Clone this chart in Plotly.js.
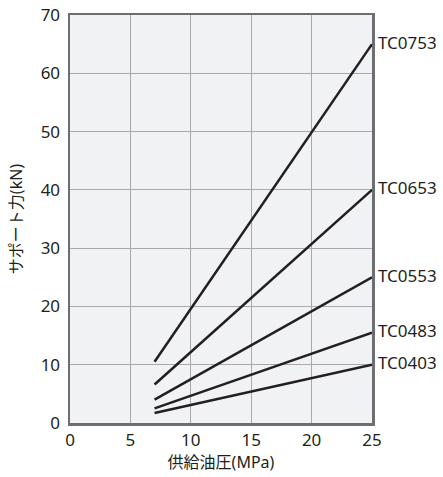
<!DOCTYPE html>
<html><head><meta charset="utf-8">
<script src="https://cdn.plot.ly/plotly-3.0.1.min.js"></script>
<style>html,body{margin:0;padding:0;background:#fff}</style>
</head><body><div id="chart" style="width:443px;height:477px"></div>
<script>
const pressure = [7, 25];
const seriesNames = ["TC0753", "TC0653", "TC0553", "TC0483", "TC0403"];
const tc0753 = [10.5, 65];
const tc0653 = [6.6, 40];
const tc0553 = [4, 25];
const tc0483 = [2.5, 15.5];
const tc0403 = [1.7, 10];
const allSeries = [tc0753, tc0653, tc0553, tc0483, tc0403];
const xTicks = [0, 5, 10, 15, 20, 25];
const yTicks = [0, 10, 20, 30, 40, 50, 60, 70];

const font = "'Noto Sans', 'Noto Sans CJK JP', sans-serif";
const traces = allSeries.map((s, i) => ({
  x: pressure, y: s, mode: 'lines', name: seriesNames[i],
  line: {color: '#231f20', width: 2.5}, hoverinfo: 'none', cliponaxis: false
}));
const annotations = allSeries.map((s, i) => ({
  x: pressure[pressure.length - 1], y: s[s.length - 1], xref: 'x', yref: 'y',
  text: seriesNames[i], showarrow: false, xanchor: 'left', xshift: 4, yshift: 2,
  font: {family: font, size: 17, color: '#231f20'}
}));
Plotly.newPlot('chart', traces, {
  width: 443, height: 477,
  margin: {l: 70, r: 71, t: 15, b: 54},
  paper_bgcolor: '#fff', plot_bgcolor: '#f1f2f3',
  showlegend: false,
  font: {family: font, size: 17, color: '#231f20'},
  xaxis: {range: [0, 25], tickvals: xTicks, ticktext: xTicks.map(String),
    showgrid: true, gridcolor: '#a7a9ac', gridwidth: 1, zeroline: false,
    showline: true, mirror: true, linecolor: '#6d6e71', linewidth: 2.5,
    ticks: '', ticklen: 0, tickfont: {size: 17},
    title: {text: '供給油圧(MPa)', font: {size: 16}, standoff: 6}},
  yaxis: {range: [0, 70], tickvals: yTicks, ticktext: yTicks.map(String),
    showgrid: true, gridcolor: '#a7a9ac', gridwidth: 1, zeroline: false,
    showline: true, mirror: true, linecolor: '#6d6e71', linewidth: 2.5,
    ticks: '', ticklen: 0, tickfont: {size: 17}, ticklabelstandoff: 4,
    title: {text: 'サポート力(kN)', font: {size: 16}, standoff: 14}},
  annotations: annotations
}, {staticPlot: true});
</script></body></html>
